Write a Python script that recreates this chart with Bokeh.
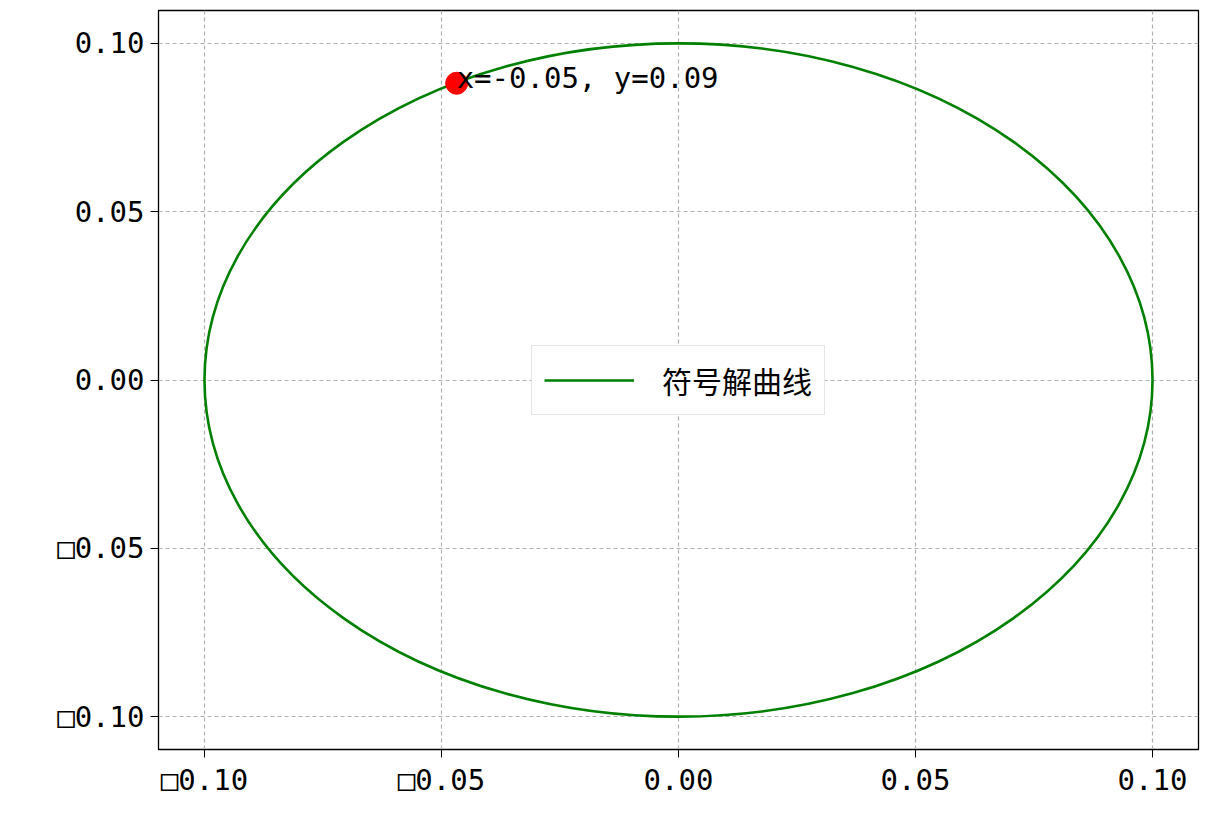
from bokeh.plotting import figure
from bokeh.models import Range1d, FixedTicker, Legend, LegendItem
from bokeh.core.properties import value
from bokeh.embed import file_html
from bokeh.resources import INLINE

# ellipse (symbolic solution curve): centre and full width / height
center_x = [0.0]
center_y = [0.0]
curve_w = [0.2]
curve_h = [0.2]

# highlighted point
pt_x = [-0.0468]
pt_y = [0.0881]
pt_label = ["x=-0.05, y=0.09"]

ticks = [-0.10, -0.05, 0.0, 0.05, 0.10]
tick_labels = {-0.10: "□0.10", -0.05: "□0.05", 0.0: "0.00", 0.05: "0.05", 0.10: "0.10"}

FONT = "Noto Sans CJK SC"
NUM_FONT = "DejaVu Sans Mono"

p = figure(width=1210, height=815, output_backend="svg", toolbar_location=None,
           x_range=Range1d(-0.1097, 0.1097), y_range=Range1d(-0.1097, 0.1097),
           min_border_left=158, min_border_right=12, min_border_top=10, min_border_bottom=66)
p.outline_line_color = "black"
p.outline_line_width = 1.3

for ax in (p.xaxis, p.yaxis):
    ax.ticker = FixedTicker(ticks=ticks)
    ax.major_label_overrides = tick_labels
    ax.major_label_text_font = NUM_FONT
    ax.major_label_text_font_size = "29px"
    ax.major_label_text_color = "black"
    ax.major_tick_out = 8
    ax.major_tick_in = 0
    ax.minor_tick_out = 0
    ax.minor_tick_in = 0
    ax.axis_line_color = "black"
    ax.major_tick_line_color = "black"
p.yaxis.major_label_standoff = 6

p.grid.grid_line_color = "#b0b0b0"
p.grid.grid_line_dash = "4 3"
p.grid.grid_line_width = 1.2

p.ellipse(x=center_x, y=center_y, width=curve_w, height=curve_h,
          fill_color=None, line_color="green", line_width=2.6)
leg_line = p.line(x=center_x, y=center_y, line_color="green", line_width=2.6)

p.scatter(pt_x, pt_y, size=22, color="red")
p.text(x=pt_x, y=pt_y, text=pt_label, text_font=value(NUM_FONT), text_font_size="29px",
       text_color="black", text_baseline="bottom", text_align="left", y_offset=12)

legend = Legend(items=[LegendItem(label="符号解曲线", renderers=[leg_line])],
                location="center", label_text_font=FONT, label_text_font_size="30px",
                label_text_color="black",
                border_line_color="#cccccc", border_line_width=1.5,
                glyph_width=90, padding=12, label_standoff=28, margin=0)
p.add_layout(legend, "center")

open("out.html", "w").write(file_html(p, INLINE))
